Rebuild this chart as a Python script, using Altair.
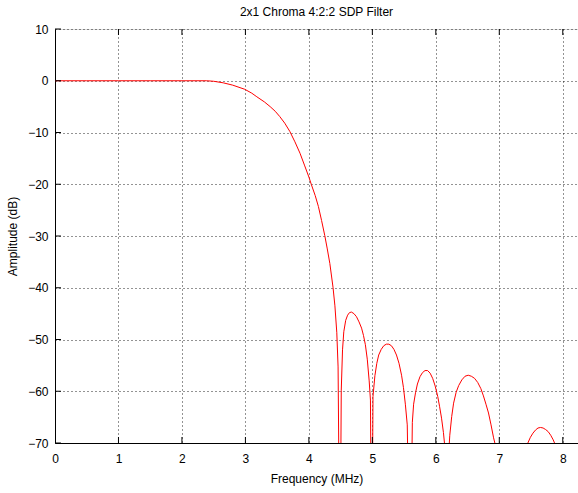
import altair as alt
import pandas as pd

# Filter magnitude response read point by point (frequency in MHz, amplitude in dB).
# Values below -70 dB fall outside the axis and are clipped.
freq_mhz = [0.0, 0.5, 1.0, 1.5, 2.0, 2.39, 2.5, 2.65, 2.8, 2.99, 3.1, 3.18, 3.3,
            3.39, 3.47, 3.54, 3.62, 3.70, 3.78, 3.86, 3.93, 4.00, 4.04, 4.10, 4.15,
            4.20, 4.25, 4.29, 4.33, 4.38, 4.41, 4.44, 4.46, 4.49,
            # first sidelobe
            4.51, 4.53, 4.55, 4.58, 4.61, 4.64, 4.67, 4.71, 4.75, 4.79, 4.83, 4.86,
            4.89, 4.92, 4.95, 4.97, 4.99,
            # second sidelobe
            5.01, 5.04, 5.07, 5.10, 5.14, 5.18, 5.22, 5.26, 5.30, 5.34, 5.38, 5.42,
            5.46, 5.49, 5.52, 5.55, 5.595,
            # third sidelobe
            5.63, 5.65, 5.68, 5.71, 5.75, 5.79, 5.83, 5.87, 5.91, 5.95, 5.99, 6.03,
            6.06, 6.09, 6.12, 6.14, 6.175,
            # fourth sidelobe
            6.21, 6.22, 6.25, 6.28, 6.32, 6.36, 6.41, 6.46, 6.51, 6.56, 6.61, 6.66,
            6.71, 6.75, 6.79, 6.83, 6.87, 6.91, 6.93, 6.96, 7.20, 7.43,
            # fifth sidelobe
            7.45, 7.49, 7.53, 7.57, 7.61, 7.65, 7.69, 7.73, 7.77, 7.81, 7.85, 7.87,
            7.90, 8.10]
amp_db = [0.0, 0.0, 0.0, 0.0, 0.0, 0.0, -0.1, -0.4, -0.85, -1.65, -2.4, -3.1, -4.1,
          -5.0, -5.9, -6.9, -8.2, -9.8, -11.8, -14.0, -16.3, -18.6, -20.1, -22.2, -24.3,
          -27.0, -29.9, -32.5, -35.3, -39.9, -43.5, -48.7, -55.3, -100.0,
          -59.8, -52.0, -48.5, -46.3, -45.3, -44.8, -44.7, -45.0, -45.6, -46.6, -47.8, -49.2,
          -51.0, -53.8, -58.0, -61.7, -100.0,
          -61.0, -57.0, -54.6, -53.0, -51.9, -51.2, -50.9, -50.9, -51.2, -51.9, -53.0, -54.6,
          -56.9, -59.3, -62.5, -66.5, -100.0,
          -66.0, -62.5, -60.3, -58.6, -57.2, -56.4, -56.0, -56.0, -56.5, -57.5, -59.0, -61.0,
          -63.0, -65.2, -68.0, -70.5, -100.0,
          -70.5, -68.5, -64.9, -62.3, -60.2, -58.9, -57.8, -57.1, -56.9, -57.1, -57.5, -58.3,
          -59.5, -60.9, -62.5, -64.2, -66.5, -69.0, -70.0, -72.0, -100.0, -72.0,
          -70.0, -68.9, -68.1, -67.5, -67.1, -67.0, -67.1, -67.4, -67.8, -68.5, -69.4, -70.0,
          -72.0, -90.0]

x_ticks = [0, 1, 2, 3, 4, 5, 6, 7, 8]
y_ticks = [10, 0, -10, -20, -30, -40, -50, -60, -70]

X_DOMAIN = [0, 8.24]
Y_DOMAIN = [-70, 10]
FONT = "Liberation Sans"

resp = pd.DataFrame({"f": freq_mhz, "db": amp_db})
xs = alt.Scale(domain=X_DOMAIN, nice=False, zero=False)
ys = alt.Scale(domain=Y_DOMAIN, nice=False, zero=False)

grid_style = dict(grid=True, gridColor="black", gridDash=[1, 3], gridOpacity=0.85,
                  gridWidth=1, ticks=False, domain=True, domainColor="black",
                  labelFont=FONT, labelFontSize=12, labelColor="black",
                  labelFlush=False,
                  titleFont=FONT, titleFontSize=12, titleFontWeight="normal",
                  titleColor="black")

curve = alt.Chart(resp).mark_line(color="#ff0000", strokeWidth=1, clip=True).encode(
    x=alt.X("f:Q", scale=xs,
            axis=alt.Axis(values=x_ticks, title="Frequency (MHz)", labelPadding=10,
                          titlePadding=9, format="d", **grid_style)),
    y=alt.Y("db:Q", scale=ys,
            axis=alt.Axis(values=y_ticks, title="Amplitude (dB)", labelPadding=7,
                          titlePadding=8, format="d", **grid_style)),
    order=alt.Order("idx:Q"),
).transform_window(idx="row_number()")

# Inward tick marks along the box edges
xt = pd.DataFrame({"t": x_ticks[1:]})
yt = pd.DataFrame({"t": y_ticks})
tick_len_db = 1.16
tick_len_mhz = 0.094

bottom_ticks = alt.Chart(xt).mark_rule(color="black", strokeWidth=1).encode(
    x=alt.X("t:Q", scale=xs), y=alt.datum(Y_DOMAIN[0]), y2=alt.datum(Y_DOMAIN[0] + tick_len_db))
top_ticks = alt.Chart(xt).mark_rule(color="black", strokeWidth=1).encode(
    x=alt.X("t:Q", scale=xs), y=alt.datum(Y_DOMAIN[1]), y2=alt.datum(Y_DOMAIN[1] - tick_len_db))
left_ticks = alt.Chart(yt).mark_rule(color="black", strokeWidth=1).encode(
    y=alt.Y("t:Q", scale=ys), x=alt.datum(0), x2=alt.datum(tick_len_mhz))

chart = alt.layer(curve, bottom_ticks, top_ticks, left_ticks).properties(
    width=523, height=414,
    title=alt.TitleParams("2x1 Chroma 4:2:2 SDP Filter", font=FONT, fontSize=12,
                          fontWeight="normal", color="black", anchor="middle",
                          frame="group", offset=4),
    padding={"left": 55, "top": 29, "right": 0, "bottom": 50},
    autosize=alt.AutoSizeParams(type="none"),
).configure_view(stroke="black", strokeWidth=1).configure(background="white")

chart.save("out.html", embed_options={"renderer": "svg", "actions": False})
